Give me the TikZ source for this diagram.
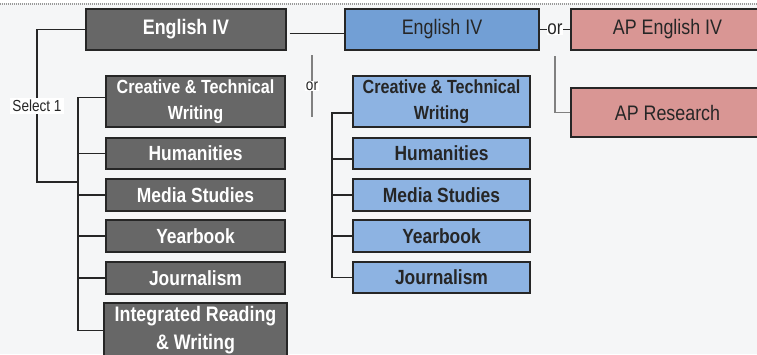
\documentclass[tikz,border=0pt]{standalone}
\usepackage{fontspec}
\setmainfont{Liberation Sans}[FakeStretch=0.85]
\definecolor{darkfill}{HTML}{676767}
\definecolor{boxline}{HTML}{262626}
\definecolor{bluetop}{HTML}{729FD5}
\definecolor{lightblue}{HTML}{8DB3E2}
\definecolor{apfill}{HTML}{D99694}
\definecolor{textdark}{HTML}{262626}
\definecolor{pagebg}{HTML}{F5F6F7}

\begin{document}
\begin{tikzpicture}[x=1pt,y=-1pt,
    topbox/.style={draw=boxline, line width=1.3pt, minimum height=41pt, inner sep=0pt, text=textdark, font=\fontsize{21}{25}\selectfont},
    darksub/.style={draw=boxline, line width=1.3pt, fill=darkfill, text=white, minimum width=179pt, inner sep=0pt, align=center, font=\bfseries\fontsize{20.5}{27}\selectfont},
    bluesub/.style={darksub, fill=lightblue, text=textdark, minimum width=177pt},
    link/.style={draw=black!85, line width=1.2pt},
    orline/.style={draw=black!50, line width=1.1pt},
    orlabel/.style={fill=white, inner sep=1pt, text=black!85, font=\fontsize{16}{18}\selectfont}]
    \useasboundingbox (0,0) rectangle (757,354);
    \fill[pagebg] (0,0) rectangle (757,354);
    \fill[white] (0,0) rectangle (757,2.5);
    \draw[black!40, line width=2pt, dash pattern=on 1pt off 1pt] (0,3.5) -- (757,3.5);

    \node[topbox, fill=darkfill, text=white, minimum width=200pt, font=\bfseries\fontsize{21}{25}\selectfont] (eng) at (186,29.5) {English IV};
    \node[topbox, fill=bluetop, minimum width=194pt] (engB) at (442,29.5) {English IV};
    \node[topbox, fill=apfill, minimum width=193pt] (apEng) at (667.5,29.5) {AP English IV};
    \node[topbox, fill=apfill, minimum width=193pt, minimum height=49pt] (apRes) at (667.5,112.5) {AP Research};

    \node[darksub, minimum height=51pt, font=\bfseries\fontsize{19}{26}\selectfont] (dCre) at (195.5,101.5) {Creative \& Technical\\Writing};
    \node[darksub, minimum height=31pt] (dHum) at (195.5,153.5) {Humanities};
    \node[darksub, minimum height=32pt] (dMed) at (195.5,195) {Media Studies};
    \node[darksub, minimum height=32pt] (dYear) at (195.5,236) {Yearbook};
    \node[darksub, minimum height=32pt] (dJour) at (195.5,278) {Journalism};
    \node[darksub, minimum height=55pt, minimum width=183pt, font=\bfseries\fontsize{21}{28}\selectfont] (dIrw) at (195.5,330.5) {Integrated Reading\\\& Writing};

    \node[bluesub, minimum height=51pt, font=\bfseries\fontsize{19}{26}\selectfont] (bCre) at (441.5,101.5) {Creative \& Technical\\Writing};
    \node[bluesub, minimum height=31pt] (bHum) at (441.5,153.5) {Humanities};
    \node[bluesub, minimum height=32pt] (bMed) at (441.5,195) {Media Studies};
    \node[bluesub, minimum height=32pt] (bYear) at (441.5,236) {Yearbook};
    \node[bluesub, minimum height=31pt] (bJour) at (441.5,277.5) {Journalism};

    \coordinate (selTurn) at (37,182);
    \coordinate (dJoin) at (78,182);
    \coordinate (bJoin) at (332,113);
    \coordinate (orTop) at (312,55);
    \coordinate (orBot) at (312,117);
    \coordinate (apTop) at (555,56);

    \draw[link] (eng.west) -| (selTurn) -- (dJoin);
    \node[orlabel, inner sep=2pt] (sel) at (37,106) {Select 1};
    \draw[link] ([yshift=4pt]dCre.west) -- ([yshift=4pt]dCre.west -| dJoin) |- (dIrw.west);
    \draw[link] (dHum.west) -- (dHum.west -| dJoin);
    \draw[link] (dMed.west) -- (dMed.west -| dJoin);
    \draw[link] (dYear.west) -- (dYear.west -| dJoin);
    \draw[link] (dJour.west) -- (dJour.west -| dJoin);

    \draw[link] ([xshift=3pt,yshift=-4pt]eng.east) -- ([yshift=-4pt]eng.east -| engB.west);
    \draw[orline] (orTop) -- (orBot) node[orlabel, midway] (orMid) {or};

    \draw[link] (bCre.west |- bJoin) -- (bJoin) |- (bJour.west);
    \draw[link] ([yshift=-5.5pt]bHum.west) -- ([yshift=-5.5pt]bHum.west -| bJoin);
    \draw[link] (bMed.west) -- (bMed.west -| bJoin);
    \draw[link] (bYear.west) -- (bYear.west -| bJoin);

    \draw[link] (engB.east) -- (apEng.west) node[orlabel, midway, inner sep=0.5pt, font=\fontsize{20}{22}\selectfont] (orAp) {or};
    \draw[orline] (apTop) |- (apRes.west);
\end{tikzpicture}
\end{document}
